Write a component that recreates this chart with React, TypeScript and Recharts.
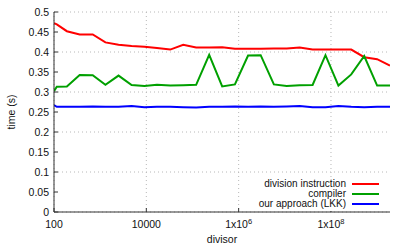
import { LineChart, Line, XAxis, YAxis, CartesianGrid } from 'recharts';

const divisors = [
  100, 115, 190, 360, 690, 1300, 2500, 4800, 9100, 17000, 33000, 63000, 120000, 230000,
  440000, 830000, 1600000, 3000000, 5800000, 11000000, 21000000, 40000000, 76000000,
  145000000, 275000000, 525000000, 1000000000, 1900000000,
];

const divisionInstruction = [
  0.472, 0.469, 0.452, 0.444, 0.444, 0.424, 0.418, 0.415, 0.413, 0.41, 0.406, 0.418, 0.411, 0.411,
  0.412, 0.408, 0.408, 0.408, 0.409, 0.409, 0.411, 0.406, 0.406, 0.406, 0.406, 0.387, 0.382, 0.366,
];

const compiler = [
  0.302, 0.313, 0.314, 0.3425, 0.342, 0.318, 0.341, 0.3175, 0.315, 0.318, 0.316, 0.317, 0.318, 0.393,
  0.314, 0.319, 0.391, 0.392, 0.319, 0.315, 0.317, 0.3175, 0.392, 0.316, 0.344, 0.39, 0.316, 0.316,
];

const ourApproach = [
  0.267, 0.263, 0.263, 0.263, 0.264, 0.263, 0.263, 0.265, 0.262, 0.263, 0.263, 0.262, 0.261, 0.263,
  0.263, 0.264, 0.263, 0.264, 0.263, 0.264, 0.265, 0.262, 0.262, 0.265, 0.263, 0.262, 0.263, 0.263,
];

const xTicks = [100, 10000, 1000000, 100000000];
const yTicks = [0, 0.05, 0.1, 0.15, 0.2, 0.25, 0.3, 0.35, 0.4, 0.45, 0.5];

const SERIES = [
  { key: 'division', name: 'division instruction', color: '#ff0000' },
  { key: 'compiler', name: 'compiler', color: '#00a000' },
  { key: 'lkk', name: 'our approach (LKK)', color: '#0000ff' },
];

const FONT = '"Liberation Sans", Arial, Helvetica, sans-serif';
const FS = 10.5;

const data = divisors.map((d, i) => ({
  divisor: d,
  division: divisionInstruction[i],
  compiler: compiler[i],
  lkk: ourApproach[i],
}));

function XTick(props: any) {
  const { x, y, payload } = props;
  const v = payload.value as number;
  const exp = Math.round(Math.log10(v));
  return (
    <text x={x} y={y} dy="0.71em" textAnchor="middle" fontSize={FS} fontFamily={FONT} fill="#111">
      {v < 1000000 ? (
        String(v)
      ) : (
        <>
          <tspan>1x10</tspan>
          <tspan dy={-4} fontSize={7.5}>{exp}</tspan>
        </>
      )}
    </text>
  );
}

function YLabel(props: any) {
  const vb = props.viewBox;
  const cx = 11;
  const cy = vb.y + vb.height / 2;
  return (
    <text x={cx} y={cy} transform={`rotate(-90 ${cx} ${cy})`} textAnchor="middle" dominantBaseline="central" fontSize={FS} fontFamily={FONT} fill="#111">
      time (s)
    </text>
  );
}

function XLabel(props: any) {
  const vb = props.viewBox;
  return (
    <text x={vb.x + vb.width / 2} y={vb.y + 30.5} textAnchor="middle" fontSize={FS} fontFamily={FONT} fill="#111">
      divisor
    </text>
  );
}

export default function App() {
  return (
    <div style={{ position: 'absolute', left: 0, top: 0, width: 407, height: 244, background: '#fff' }}>
      <LineChart width={407} height={244} data={data} margin={{ top: 12, right: 17, bottom: 0, left: 0 }}>
        <CartesianGrid stroke="#b8b8b8" strokeDasharray="1 3" horizontalValues={yTicks} verticalValues={xTicks} />
        <XAxis
          dataKey="divisor"
          type="number"
          scale="log"
          domain={[100, 1900000000]}
          allowDataOverflow
          ticks={xTicks}
          height={32}
          tickSize={-4}
          tickMargin={13}
          tick={<XTick />}
          axisLine={{ stroke: '#333' }}
          tickLine={{ stroke: '#333' }}
          label={<XLabel />}
        />
        <YAxis
          type="number"
          domain={[0, 0.5]}
          ticks={yTicks}
          width={54}
          tickSize={-4}
          tickMargin={9}
          tick={{ fontSize: FS, fontFamily: FONT, fill: '#111' }}
          axisLine={{ stroke: '#333' }}
          tickLine={{ stroke: '#333' }}
          label={<YLabel />}
        />
        {SERIES.map((s) => (
          <Line key={s.key} type="linear" dataKey={s.key} name={s.name} stroke={s.color} strokeWidth={2} dot={false} isAnimationActive={false} />
        ))}
      </LineChart>
      <div
        style={{
          position: 'absolute',
          left: 255,
          top: 178,
          width: 126,
          height: 33,
          background: '#fff',
          paddingTop: 1,
          boxSizing: 'border-box',
          fontFamily: FONT,
          fontSize: 10,
          color: '#111',
        }}
      >
        {SERIES.map((s) => (
          <div key={s.key} style={{ display: 'flex', alignItems: 'center', justifyContent: 'flex-end', height: 10, lineHeight: '10px' }}>
            <span style={{ whiteSpace: 'nowrap' }}>{s.name}</span>
            <span style={{ display: 'inline-block', width: 27, height: 2, background: s.color, marginLeft: 6, marginRight: 2 }} />
          </div>
        ))}
      </div>
    </div>
  );
}
